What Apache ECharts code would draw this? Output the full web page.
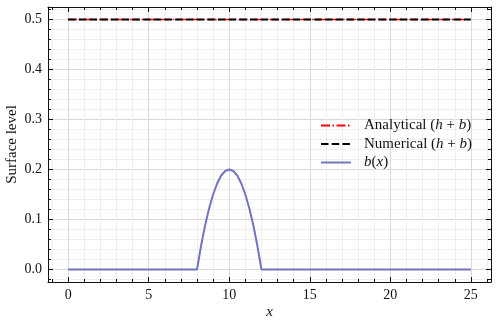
<!DOCTYPE html>
<html>
<head>
<meta charset="utf-8">
<script src="https://cdn.jsdelivr.net/npm/echarts@6/dist/echarts.min.js"></script>
<style>
  html, body { margin: 0; padding: 0; background: #fff; }
  #chart { width: 498px; height: 325px; }
</style>
</head>
<body>
<div id="chart"></div>
<script>
// data
var xLevel = [0, 25];
var analyticalLevel = [0.5, 0.5];
var numericalLevel = [0.5, 0.5];

var xBed = [0, 8, 8.25, 8.5, 8.75, 9, 9.25, 9.5, 9.75, 10, 10.25, 10.5, 10.75, 11, 11.25, 11.5, 11.75, 12, 25];
var bedValues = [0, 0, 0.047, 0.088, 0.122, 0.15, 0.172, 0.188, 0.197, 0.2, 0.197, 0.188, 0.172, 0.15, 0.122, 0.088, 0.047, 0, 0];

var legendNames = ['Analytical (h + b)', 'Numerical (h + b)', 'b(x)'];

var xRange = [-1.25, 26.25];
var yRange = [-0.025, 0.525];

function zip(xs, ys) {
    var out = [];
    for (var i = 0; i < xs.length; i++) out.push([xs[i], ys[i]]);
    return out;
}

var font = '"Liberation Serif", "DejaVu Serif", serif';
var ink = '#111';

// shared axis look: ticks inside, like the matplotlib science style
function axisBase(kind, pos, labels) {
    var range = kind === 'x' ? xRange : yRange;
    return {
        type: 'value',
        position: pos,
        min: range[0],
        max: range[1],
        splitNumber: 5,
        axisLine: { show: true, onZero: false, lineStyle: { color: ink, width: 1 } },
        axisTick: { show: true, inside: true, length: 5, lineStyle: { color: ink, width: 1 } },
        minorTick: { show: true, splitNumber: 5, length: 3, lineStyle: { color: ink, width: 1 } },
        splitLine: { show: labels, lineStyle: { color: '#d9d9d9', width: 1 } },
        minorSplitLine: { show: labels, lineStyle: { color: '#efefef', width: 1 } },
        axisLabel: {
            show: labels,
            color: ink,
            fontFamily: font,
            fontSize: 14,
            margin: 6,
            formatter: function (v) {
                if (kind === 'x') {
                    return Math.abs(v / 5 - Math.round(v / 5)) < 1e-6 ? String(Math.round(v)) : '';
                }
                return Math.abs(v * 10 - Math.round(v * 10)) < 1e-6 ? v.toFixed(1) : '';
            }
        }
    };
}

var xBottom = axisBase('x', 'bottom', true);
xBottom.name = 'x';
xBottom.nameLocation = 'middle';
xBottom.nameGap = 23;
xBottom.nameMoveOverlap = false;
xBottom.nameTextStyle = { color: ink, fontFamily: font, fontSize: 15, fontStyle: 'italic' };

var yLeft = axisBase('y', 'left', true);
yLeft.name = 'Surface level';
yLeft.nameLocation = 'middle';
yLeft.nameGap = 28;
yLeft.nameMoveOverlap = false;
yLeft.nameTextStyle = { color: ink, fontFamily: font, fontSize: 15 };

// italic maths letters in the legend
function legendText(name) {
    if (name === 'b(x)') return '{i|b}({i|x})';
    return name.replace('(h + b)', '({i|h} + {i|b})');
}

var chart = echarts.init(document.getElementById('chart'), null, { renderer: 'canvas' });
chart.setOption({
    animation: false,
    backgroundColor: '#fff',
    grid: { left: 48, right: 7, top: 7, bottom: 43, outerBoundsMode: 'none', containLabel: false },
    legend: {
        orient: 'vertical',
        left: 315,
        top: 113,
        itemWidth: 30,
        itemHeight: 14,
        itemGap: 3.5,
        itemStyle: { opacity: 0 },
        formatter: legendText,
        textStyle: {
            color: ink, fontFamily: font, fontSize: 15, padding: [0, 0, 0, 8],
            rich: { i: { color: ink, fontFamily: font, fontSize: 15, fontStyle: 'italic' } }
        },
        data: legendNames
    },
    xAxis: [xBottom, axisBase('x', 'top', false)],
    yAxis: [yLeft, axisBase('y', 'right', false)],
    series: [
        {
            name: legendNames[0],
            type: 'line',
            data: zip(xLevel, analyticalLevel),
            showSymbol: false,
            symbol: 'none',
            lineStyle: { color: '#ff0000', width: 1.5, type: [9, 2.5, 1.5, 2.5] },
            itemStyle: { color: '#ff0000' },
            z: 2
        },
        {
            name: legendNames[1],
            type: 'line',
            data: zip(xLevel, numericalLevel),
            showSymbol: false,
            symbol: 'none',
            lineStyle: { color: '#000', width: 2, type: [7.5, 3.2] },
            itemStyle: { color: '#000' },
            z: 3
        },
        {
            name: legendNames[2],
            type: 'line',
            data: zip(xBed, bedValues),
            showSymbol: false,
            symbol: 'none',
            lineStyle: { color: '#7175bd', width: 2 },
            itemStyle: { color: '#7175bd' },
            z: 2
        }
    ]
});
</script>
</body>
</html>
